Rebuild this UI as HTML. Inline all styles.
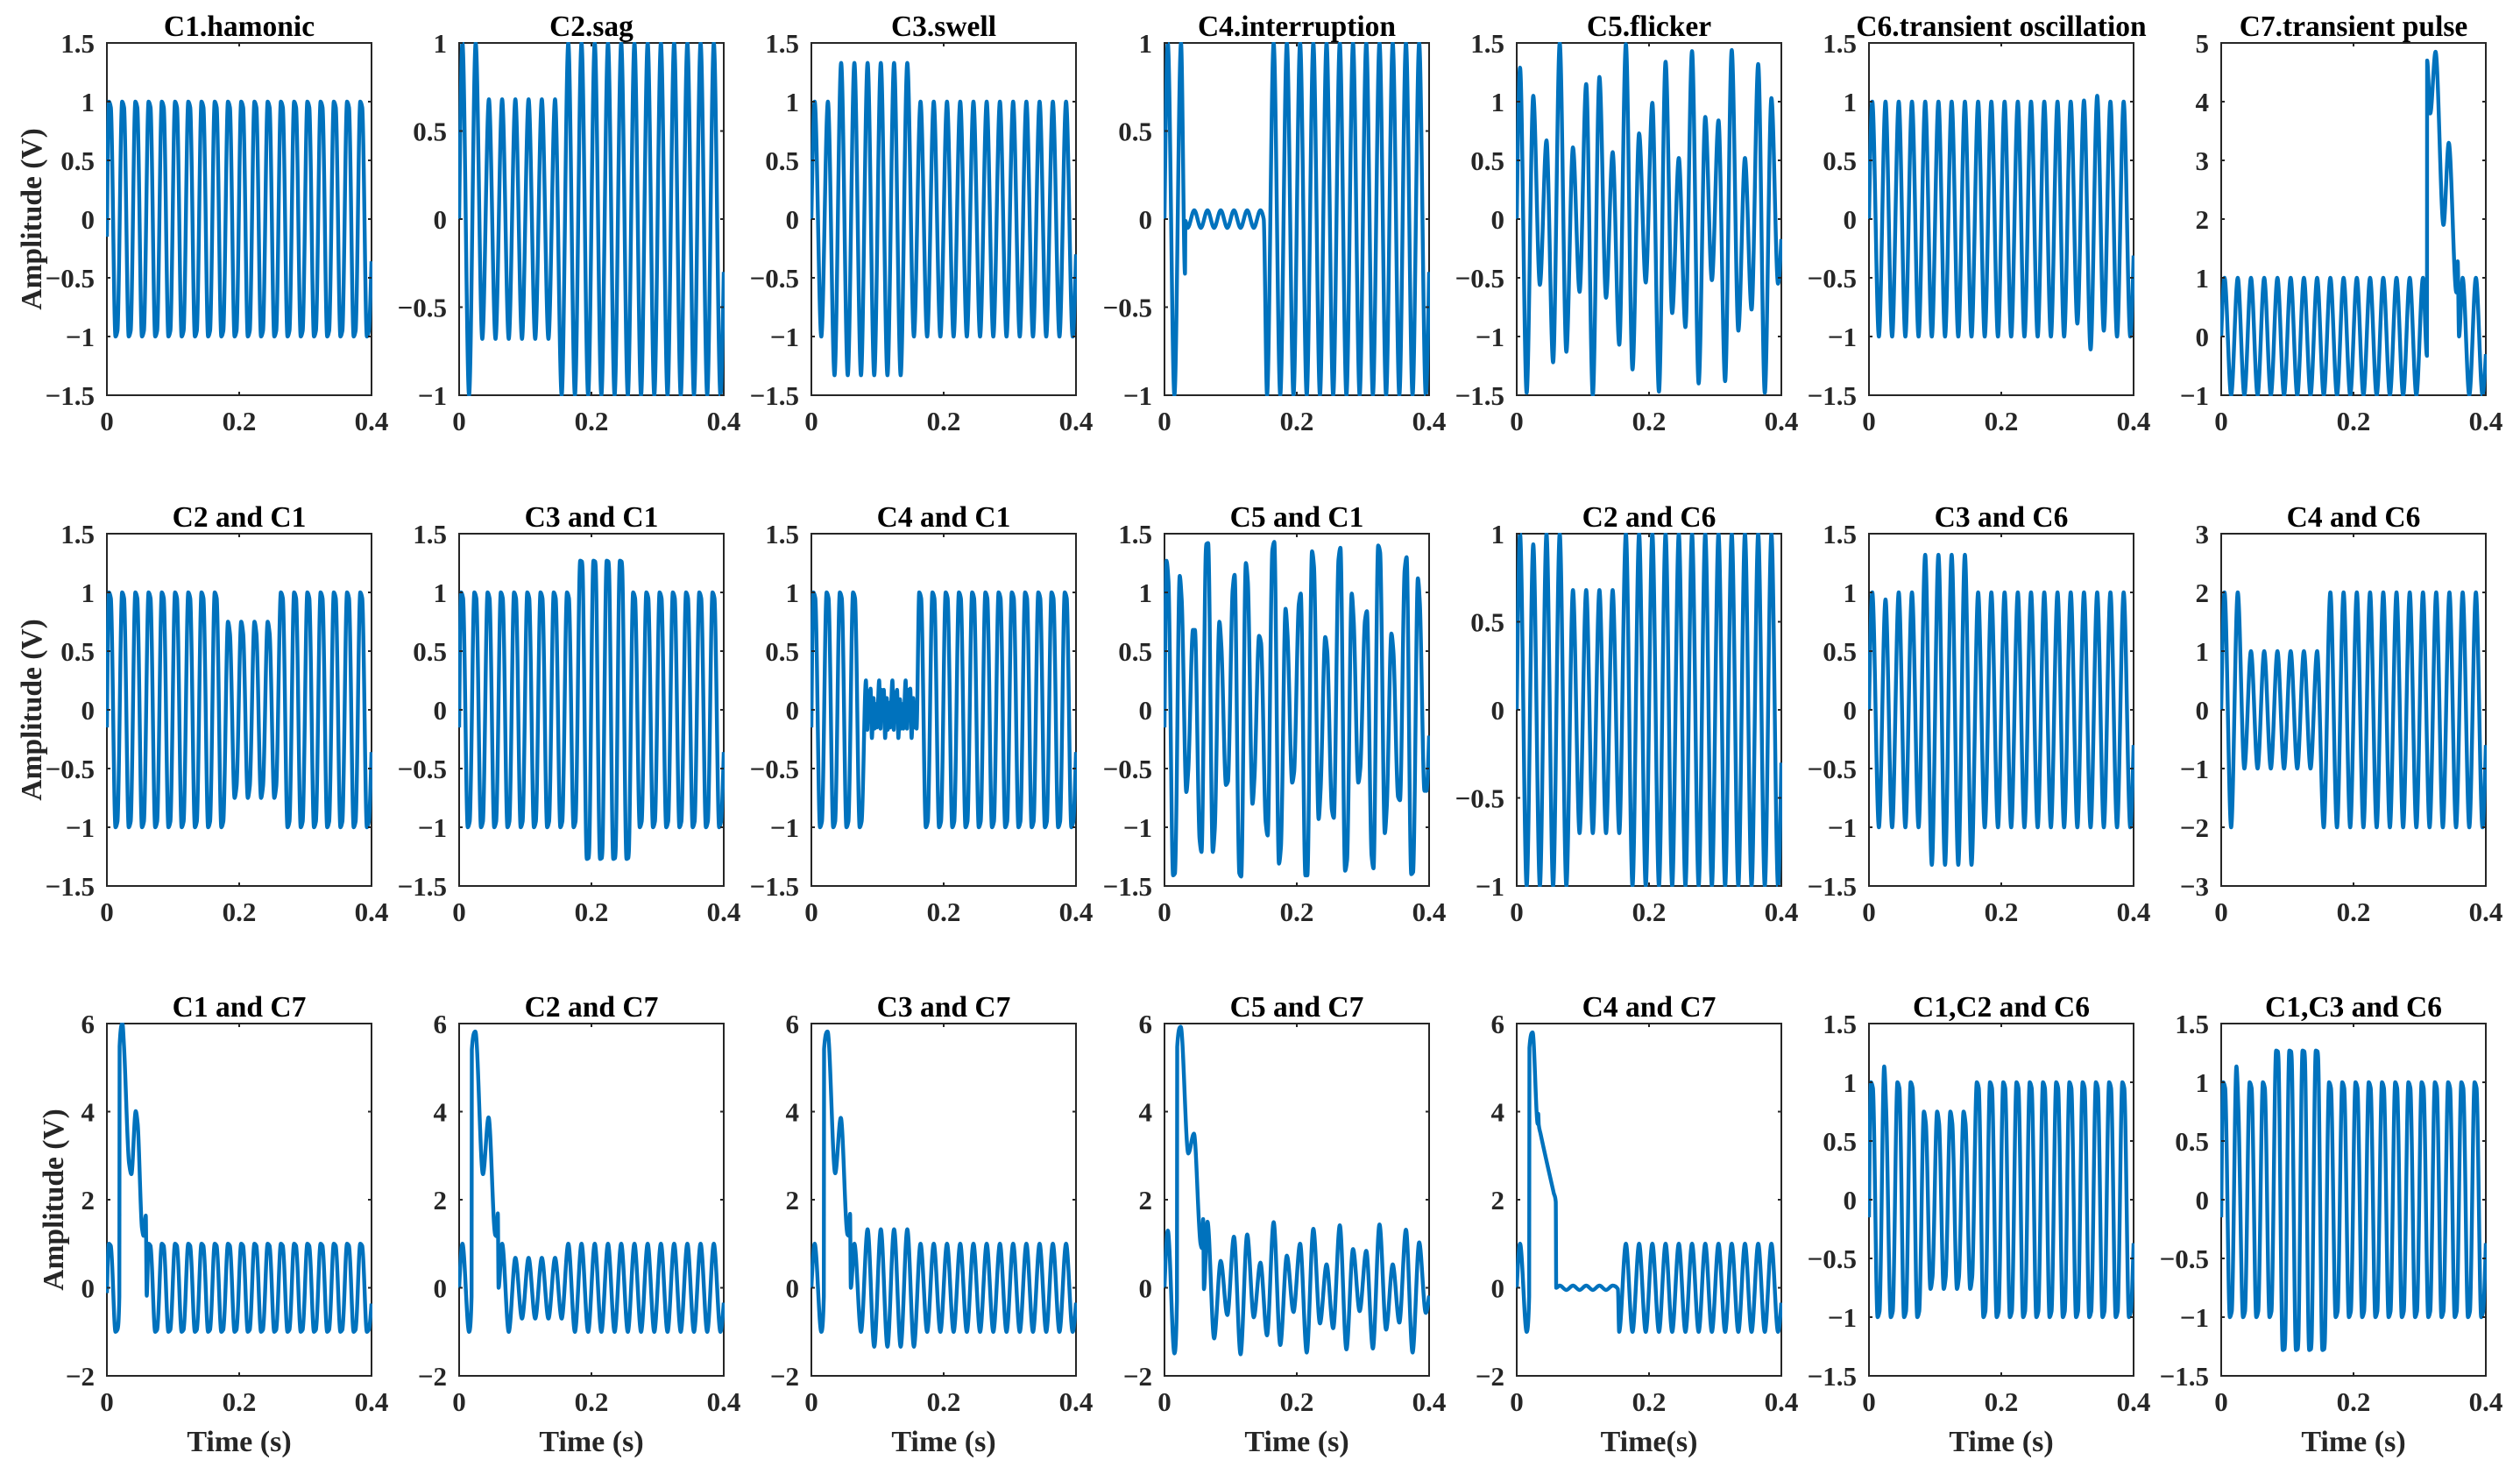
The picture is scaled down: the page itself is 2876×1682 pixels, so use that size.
<!DOCTYPE html>
<html lang="en">
<head>
<meta charset="utf-8">
<title>Power quality disturbance waveforms</title>
<style>
html,body{margin:0;padding:0;background:#fff;width:2876px;height:1682px;overflow:hidden}
svg{display:block}
text{font-family:"Liberation Serif","Times New Roman",serif;font-weight:bold}
</style>
</head>
<body>
<svg id="figure" xmlns="http://www.w3.org/2000/svg" width="2876" height="1682" viewBox="0 0 2876 1682"></svg>
<script>
/* ---------- time bases (seconds) ---------- */
const tSine=[0,.005,.015,.025,.035,.045,.055,.065,.075,.085,.095,.105,.115,.125,.135,.145,.155,.165,.175,.185,.195,.205,.215,.225,.235,.245,.255,.265,.275,.285,.295,.305,.315,.325,.335,.345,.355,.365,.375,.385,.395,.4];
const tHarm=[0,
.003,.006,.013,.016,.023,.026,.033,.036,.043,.046,.053,.056,.063,.066,.073,.076,
.083,.086,.093,.096,.103,.106,.113,.116,.123,.126,.133,.136,.143,.146,.153,.156,
.163,.166,.173,.176,.183,.186,.193,.196,.203,.206,.213,.216,.223,.226,.233,.236,
.243,.246,.253,.256,.263,.266,.273,.276,.283,.286,.293,.296,.303,.306,.313,.316,
.323,.326,.333,.336,.343,.346,.353,.356,.363,.366,.373,.376,.383,.386,.393,.396,.4];
const tPulse=[0,.005,.015,.0188,.0192,.0245,.036,.0445,.0545,.0565,.0585,.0596,.065,.075,.085,.095,.105,.115,.125,.135,.145,.155,.165,.175,.185,.195,.205,.215,.225,.235,.245,.255,.265,.275,.285,.295,.305,.315,.325,.335,.345,.355,.365,.375,.385,.395,.4];
const tC4=[0,.005,.015,.025,.031,.0316,.035,.045,.055,.065,.075,.085,.095,.105,.115,.125,.135,.145,.15,.155,.165,.175,.185,.195,.205,.215,.225,.235,.245,.255,.265,.275,.285,.295,.305,.315,.325,.335,.345,.355,.365,.375,.385,.395,.4];
const tC7=[0,.005,.015,.025,.035,.045,.055,.065,.075,.085,.095,.105,.115,.125,.135,.145,.155,.165,.175,.185,.195,.205,.215,.225,.235,.245,.255,.265,.275,.285,.295,.305,.311,.3113,.316,.324,.336,.344,.3555,.3575,.3595,.365,.375,.385,.395,.4];
const tC4C1=[0,.003,.006,.013,.016,.023,.026,.033,.036,.043,.046,.053,.056,.063,.066,.073,.076,
.0825,.0845,.086,.088,.0895,.0915,.094,.0955,.0975,.099,
.1025,.1045,.106,.108,.1095,.1115,.114,.1155,.1175,.119,
.1225,.1245,.126,.128,.1295,.1315,.134,.1355,.1375,.139,
.1425,.1445,.146,.148,.1495,.1515,.154,.1555,.1575,.159,
.163,.166,.173,.176,.183,.186,.193,.196,.203,.206,.213,.216,.223,.226,.233,.236,
.243,.246,.253,.256,.263,.266,.273,.276,.283,.286,.293,.296,.303,.306,.313,.316,
.323,.326,.333,.336,.343,.346,.353,.356,.363,.366,.373,.376,.383,.386,.393,.396,.4];
const tC1C7=[0,.003,.006,.013,.016,.0188,.0192,.0235,.0258,.0335,.037,.0436,.0465,.053,.0555,.0588,.0602,.063,.066,.073,.076,
.083,.086,.093,.096,.103,.106,.113,.116,.123,.126,.133,.136,.143,.146,.153,.156,
.163,.166,.173,.176,.183,.186,.193,.196,.203,.206,.213,.216,.223,.226,.233,.236,
.243,.246,.253,.256,.263,.266,.273,.276,.283,.286,.293,.296,.303,.306,.313,.316,
.323,.326,.333,.336,.343,.346,.353,.356,.363,.366,.373,.376,.383,.386,.393,.396,.4];
const tC4C7=[0,.005,.015,.0188,.0192,.024,.0318,.0325,.0333,.036,.056,.059,.0597,.065,.075,.085,.095,.105,.115,.125,.135,.145,.153,.1548,.165,.175,.185,.195,.205,.215,.225,.235,.245,.255,.265,.275,.285,.295,.305,.315,.325,.335,.345,.355,.365,.375,.385,.395,.4];

/* ---------- series values (volts) ---------- */
const vC1=[-.15,
1,.95,-1,-.95,1,.95,-1,-.95,1,.95,-1,-.95,1,.95,-1,-.95,1,.95,-1,-.95,
1,.95,-1,-.95,1,.95,-1,-.95,1,.95,-1,-.95,1,.95,-1,-.95,1,.95,-1,-.95,
1,.95,-1,-.95,1,.95,-1,-.95,1,.95,-1,-.95,1,.95,-1,-.95,1,.95,-1,-.95,
1,.95,-1,-.95,1,.95,-1,-.95,1,.95,-1,-.95,1,.95,-1,-.95,1,.95,-1,-.95,-.36];
const vC2=[0,1,-1,1,-.68,.68,-.68,.68,-.68,.68,-.68,.68,-.68,.68,-.68,.68,-1,1,-1,1,-1,1,-1,1,-1,1,-1,1,-1,1,-1,1,-1,1,-1,1,-1,1,-1,1,-1,-.3];
const vC3=[0,1,-1,1,-1.33,1.33,-1.33,1.33,-1.33,1.33,-1.33,1.33,-1.33,1.33,-1.33,1.33,-1,1,-1,1,-1,1,-1,1,-1,1,-1,1,-1,1,-1,1,-1,1,-1,1,-1,1,-1,1,-1,-.3];
const vC4=[0,1,-1,1,-.31,-.01,-.05,.05,-.05,.05,-.05,.05,-.05,.05,-.05,.05,-.05,.05,0,-1,1,-1,1,-1,1,-1,1,-1,1,-1,1,-1,1,-1,1,-1,1,-1,1,-1,1,-1,1,-1,-.3];
const vC5=[0,1.29,-1.48,1.05,-.56,.67,-1.22,1.5,-1.13,.61,-.62,1.15,-1.5,1.21,-.67,.57,-1.07,1.49,-1.28,.73,-.54,.99,-1.47,1.34,-.8,.52,-.92,1.43,-1.4,.87,-.52,.84,-1.38,1.44,-.95,.52,-.77,1.32,-1.48,1.03,-.55,-.17];
const vC6=[0,1,-1,1,-1,1,-1,1,-1,1,-1,1,-1,1,-1,1,-1,1,-1,1,-1,1,-1,1,-1,1,-1,1,-1,1,-1,1,-.89,1.01,-1.11,1.05,-.95,1,-1,1,-1,-.31];
const vC7=[0,1,-1,1,-1,1,-1,1,-1,1,-1,1,-1,1,-1,1,-1,1,-1,1,-1,1,-1,1,-1,1,-1,1,-1,1,-1,1,-.33,4.7,3.8,4.85,1.9,3.3,.75,1.28,0,1,-1,1,-1,-.3];

const vC2C1=[-.15,
1,.95,-1,-.95,1,.95,-1,-.95,1,.95,-1,-.95,1,.95,-1,-.95,1,.95,-1,-.95,
1,.95,-1,-.95,1,.95,-1,-.95,1,.95,-1,-.95,1,.95,-1,-.95,
.75,.65,-.75,-.65,.75,.65,-.75,-.65,.75,.65,-.75,-.65,.75,.65,-.75,-.65,
1,.95,-1,-.95,1,.95,-1,-.95,1,.95,-1,-.95,1,.95,-1,-.95,1,.95,-1,-.95,1,.95,-1,-.95,1,.95,-1,-.95,-.36];
const vC3C1=[-.15,
1,.95,-1,-.95,1,.95,-1,-.95,1,.95,-1,-.95,1,.95,-1,-.95,1,.95,-1,-.95,
1,.95,-1,-.95,1,.95,-1,-.95,1,.95,-1,-.95,1,.95,-1,-.95,
1.27,1.26,-1.27,-1.26,1.27,1.26,-1.27,-1.26,1.27,1.26,-1.27,-1.26,1.27,1.26,-1.27,-1.26,
1,.95,-1,-.95,1,.95,-1,-.95,1,.95,-1,-.95,1,.95,-1,-.95,1,.95,-1,-.95,1,.95,-1,-.95,1,.95,-1,-.95,-.36];
const vC4C1=[-.15,
1,.95,-1,-.95,1,.95,-1,-.95,1,.95,-1,-.95,1,.95,-1,-.95,
.25,-.17,.16,-.1,.18,-.24,.1,-.16,.05,-.15,
.25,-.16,.17,-.08,.17,-.24,.1,-.17,.06,-.15,
.25,-.17,.15,-.1,.17,-.24,.09,-.16,.05,-.16,
.25,-.16,.17,-.09,.18,-.24,.1,-.15,.05,-.16,
1,.95,-1,-.95,1,.95,-1,-.95,1,.95,-1,-.95,1,.95,-1,-.95,1,.95,-1,-.95,1,.95,-1,-.95,
1,.95,-1,-.95,1,.95,-1,-.95,1,.95,-1,-.95,1,.95,-1,-.95,1,.95,-1,-.95,1,.95,-1,-.95,-.36];
const vC5C1=[-.15,
1.27,1.1,-1.41,-1.39,1.14,.94,-.7,-.51,.68,.68,-1.1,-1.21,1.41,1.42,-1.21,-1.02,
.75,.54,-.64,-.61,1.02,1.15,-1.39,-1.42,1.25,1.09,-.8,-.58,.63,.57,-.96,-1.07,
1.36,1.43,-1.31,-1.17,.86,.64,-.62,-.53,.9,.99,-1.41,-1.41,1.35,1.22,-.93,-.68,
.62,.5,-.85,-.92,1.28,1.38,-1.37,-1.28,.99,.76,-.62,-.5,.76,.84,-1.24,-1.35,
1.4,1.34,-1.05,-.83,.65,.5,-.74,-.77,1.19,1.3,-1.4,-1.38,1.12,.91,-.69,-.69,-.22];
const vC2C6=[0,1,-1,.94,-1,1,-1,1,-1,.68,-.7,.68,-.7,.68,-.7,.68,-.7,1,-1,1,-1,1,-1,1,-1,1,-1,1,-1,1,-1,1,-1,1,-1,1,-1,1,-1,1,-1,-.3];
const vC3C6=[0,1,-1,.94,-1,1,-1,1,-1,1.32,-1.32,1.32,-1.32,1.32,-1.32,1.32,-1.32,1,-1,1,-1,1,-1,1,-1,1,-1,1,-1,1,-1,1,-1,1,-1,1,-1,1,-1,1,-1,-.3];
const vC4C6=[0,2,-2,2,-1,1,-1,1,-1,1,-1,1,-1,1,-1,1,-2,2,-2,2,-2,2,-2,2,-2,2,-2,2,-2,2,-2,2,-2,2,-2,2,-2,2,-2,2,-2,-.6];

const vC1C7=[-.12,1,.95,-1,-.95,-.2,5.48,6,5.5,2.83,2.58,4.01,3.73,1.36,1.18,1.64,-.18,1,.95,-1,-.95,
1,.95,-1,-.95,1,.95,-1,-.95,1,.95,-1,-.95,1,.95,-1,-.95,
1,.95,-1,-.95,1,.95,-1,-.95,1,.95,-1,-.95,1,.95,-1,-.95,
1,.95,-1,-.95,1,.95,-1,-.95,1,.95,-1,-.95,1,.95,-1,-.95,
1,.95,-1,-.95,1,.95,-1,-.95,1,.95,-1,-.95,1,.95,-1,-.95,-.36];
const vC2C7=[0,1,-1,-.2,5.41,5.82,2.58,3.87,1.2,1.17,1.69,0,1,-1,.68,-.7,.68,-.7,.68,-.7,.68,-.7,1,-1,1,-1,1,-1,1,-1,1,-1,1,-1,1,-1,1,-1,1,-1,1,-1,1,-1,1,-1,-.34];
const vC3C7=[0,1,-1,-.2,5.42,5.82,2.6,3.86,1.21,1.18,1.68,0,1,-1,1.33,-1.34,1.33,-1.34,1.33,-1.34,1.33,-1.34,1,-1,1,-1,1,-1,1,-1,1,-1,1,-1,1,-1,1,-1,1,-1,1,-1,1,-1,1,-1,-.34];
const vC5C7=[0,1.3,-1.49,-.3,5.47,5.93,3.05,3.5,1,.9,1.56,-.03,1.5,-1.15,.61,-.62,1.16,-1.51,1.21,-.67,.57,-1.08,1.49,-1.3,.73,-.55,1,-1.47,1.34,-.81,.53,-.92,1.42,-1.4,.88,-.53,.84,-1.38,1.44,-.95,.53,-.79,1.32,-1.47,1.03,-.57,-.18];
const vC4C7=[0,1,-1,-.2,5.45,5.8,3.72,3.95,3.7,3.5,2.15,1.95,0,.05,-.05,.05,-.05,.05,-.05,.05,-.05,.05,-.03,-1,1,-1,1,-1,1,-1,1,-1,1,-1,1,-1,1,-1,1,-1,1,-1,1,-1,1,-1,1,-1,-.34];
const vC1C2C6=[-.15,
1,.95,-1,-.95,1.135,.77,-1,-.95,1,.95,-1,-.95,1,.95,-1,-.95,
.75,.65,-.76,-.66,.75,.65,-.76,-.66,.75,.65,-.76,-.66,.75,.65,-.76,-.66,
1,.95,-1,-.95,1,.95,-1,-.95,1,.95,-1,-.95,1,.95,-1,-.95,1,.95,-1,-.95,1,.95,-1,-.95,
1,.95,-1,-.95,1,.95,-1,-.95,1,.95,-1,-.95,1,.95,-1,-.95,1,.95,-1,-.95,1,.95,-1,-.95,-.37];
const vC1C3C6=[-.15,
1,.95,-1,-.95,1.135,.77,-1,-.95,1,.95,-1,-.95,1,.95,-1,-.95,
1.27,1.26,-1.28,-1.27,1.27,1.26,-1.28,-1.27,1.27,1.26,-1.28,-1.27,1.27,1.26,-1.28,-1.27,
1,.95,-1,-.95,1,.95,-1,-.95,1,.95,-1,-.95,1,.95,-1,-.95,1,.95,-1,-.95,1,.95,-1,-.95,
1,.95,-1,-.95,1,.95,-1,-.95,1,.95,-1,-.95,1,.95,-1,-.95,1,.95,-1,-.95,1,.95,-1,-.95,-.37];

/* ---------- axis ticks and labels ---------- */
const xTicks=[0,.2,.4];
const xTickLabels=["0","0.2","0.4"];
const yT15=[-1.5,-1,-.5,0,.5,1,1.5];
const yT1=[-1,-.5,0,.5,1];
const yT5=[-1,0,1,2,3,4,5];
const yT3=[-3,-2,-1,0,1,2,3];
const yT6=[-2,0,2,4,6];

/* ---------- panels, left-to-right, top-to-bottom ---------- */
const panelTitles=["C1.hamonic","C2.sag","C3.swell","C4.interruption","C5.flicker","C6.transient oscillation","C7.transient pulse",
"C2 and C1","C3 and C1","C4 and C1","C5 and C1","C2 and C6","C3 and C6","C4 and C6",
"C1 and C7","C2 and C7","C3 and C7","C5 and C7","C4 and C7","C1,C2 and C6","C1,C3 and C6"];
const panelTimes=[tHarm,tSine,tSine,tC4,tSine,tSine,tC7,
tHarm,tHarm,tC4C1,tHarm,tSine,tSine,tSine,
tC1C7,tPulse,tPulse,tPulse,tC4C7,tHarm,tHarm];
const panelValues=[vC1,vC2,vC3,vC4,vC5,vC6,vC7,
vC2C1,vC3C1,vC4C1,vC5C1,vC2C6,vC3C6,vC4C6,
vC1C7,vC2C7,vC3C7,vC5C7,vC4C7,vC1C2C6,vC1C3C6];
const panelYTicks=[yT15,yT1,yT15,yT1,yT15,yT15,yT5,
yT15,yT15,yT15,yT15,yT1,yT15,yT3,
yT6,yT6,yT6,yT6,yT6,yT15,yT15];
const xAxisTitles=["Time (s)","Time (s)","Time (s)","Time (s)","Time(s)","Time (s)","Time (s)"];
const yAxisTitle="Amplitude (V)";
const xMax=.4;

/* ---------- layout ---------- */
const NS="http://www.w3.org/2000/svg";
const svg=document.getElementById("figure");
const AX_W=302,AX_H=402,LEFT0=122,DX=402.17,TOP0=49,DY=559.5;
const INK="#262626",LINE="#0072BD";

function make(tag,attrs,parent){
  const el=document.createElementNS(NS,tag);
  for(const k in attrs)el.setAttribute(k,attrs[k]);
  parent.appendChild(el);
  return el;
}
function xScale(t,left){return left+t/xMax*AX_W;}
function yScale(v,top,lo,hi){return top+(hi-v)/(hi-lo)*AX_H;}
function tickText(v){
  const s=String(Math.abs(v));
  return (v<0?"\u2212":"")+s;
}
function slug(s){return s.toLowerCase().replace(/[^a-z0-9]+/g,"-");}

/* monotone cubic path through the data points */
function wavePath(ts,vs,left,top,lo,hi){
  const n=Math.min(ts.length,vs.length);
  const X=[],Y=[];
  for(let i=0;i<n;i++){X.push(xScale(ts[i],left));Y.push(yScale(vs[i],top,lo,hi));}
  const S=[],M=new Array(n).fill(0);
  for(let i=0;i<n-1;i++)S.push((Y[i+1]-Y[i])/Math.max(X[i+1]-X[i],1e-6));
  for(let i=1;i<n-1;i++){
    if(S[i-1]*S[i]>0){
      const a=X[i]-X[i-1],b=X[i+1]-X[i];
      M[i]=(a+b)*3/((2*b+a)/S[i-1]+(b+2*a)/S[i]);
    }
  }
  M[0]=1.5*S[0]-.5*M[1];
  M[n-1]=1.5*S[n-2]-.5*M[n-2];
  let d="M"+X[0].toFixed(2)+" "+Y[0].toFixed(2);
  for(let i=0;i<n-1;i++){
    const h=(X[i+1]-X[i])/3;
    d+="C"+(X[i]+h).toFixed(2)+" "+(Y[i]+M[i]*h).toFixed(2)+" "+(X[i+1]-h).toFixed(2)+" "+(Y[i+1]-M[i+1]*h).toFixed(2)+" "+X[i+1].toFixed(2)+" "+Y[i+1].toFixed(2);
  }
  return d;
}

const defs=make("defs",{},svg);

panelTitles.forEach(function(title,p){
  const row=Math.floor(p/7),col=p%7;
  const left=Math.round(LEFT0+col*DX),top=Math.round(TOP0+row*DY);
  const yTicks=panelYTicks[p];
  const lo=yTicks[0],hi=yTicks[yTicks.length-1];
  const name=slug(title);

  const g=make("g",{},svg);
  
  

  const clip=make("clipPath",{id:"clip"+p},defs);
  make("rect",{x:left-1,y:top-1,width:AX_W+2,height:AX_H+2},clip);

  const box=make("rect",{x:left,y:top,width:AX_W,height:AX_H,fill:"#fff",stroke:INK,"stroke-width":2},g);
  
  

  const line=make("path",{d:wavePath(panelTimes[p],panelValues[p],left,top,lo,hi),fill:"none",stroke:LINE,"stroke-width":4.4,"stroke-linejoin":"round","stroke-linecap":"butt","clip-path":"url(#clip"+p+")"},g);
  
  

  const titleEl=make("text",{x:left+AX_W/2,y:top-8,"text-anchor":"middle","font-size":33.5,fill:"#000"},g);
  titleEl.textContent=title;
  
  

  xTicks.forEach(function(t,i){
    const x=xScale(t,left);
    const tickA=make("line",{x1:x,x2:x,y1:top+AX_H,y2:top+AX_H-4,stroke:INK,"stroke-width":2},g);
    
    
    const tickB=make("line",{x1:x,x2:x,y1:top,y2:top+4,stroke:INK,"stroke-width":2},g);
    
    
    const lab=make("text",{x:x,y:top+AX_H+40,"text-anchor":"middle","font-size":31,fill:INK},g);
    lab.textContent=xTickLabels[i];
    
    
  });

  yTicks.forEach(function(v){
    const y=yScale(v,top,lo,hi);
    const tickA=make("line",{x1:left,x2:left+4,y1:y,y2:y,stroke:INK,"stroke-width":2},g);
    
    
    const tickB=make("line",{x1:left+AX_W,x2:left+AX_W-4,y1:y,y2:y,stroke:INK,"stroke-width":2},g);
    
    
    const lab=make("text",{x:left-14,y:y+11,"text-anchor":"end","font-size":31,fill:INK},g);
    lab.textContent=tickText(v);
    
    
  });

  if(row===2){
    const xt=make("text",{x:left+AX_W/2,y:top+AX_H+86,"text-anchor":"middle","font-size":34,fill:INK},g);
    xt.textContent=xAxisTitles[col];
    
    
  }
  if(col===0){
    const bx=row===2?72:47;
    const cy=top+AX_H/2;
    const yt=make("text",{x:bx,y:cy,"text-anchor":"middle","font-size":33.5,fill:INK,transform:"rotate(-90 "+bx+" "+cy+")"},g);
    yt.textContent=yAxisTitle;
    
    
  }
});
</script>
</body>
</html>
